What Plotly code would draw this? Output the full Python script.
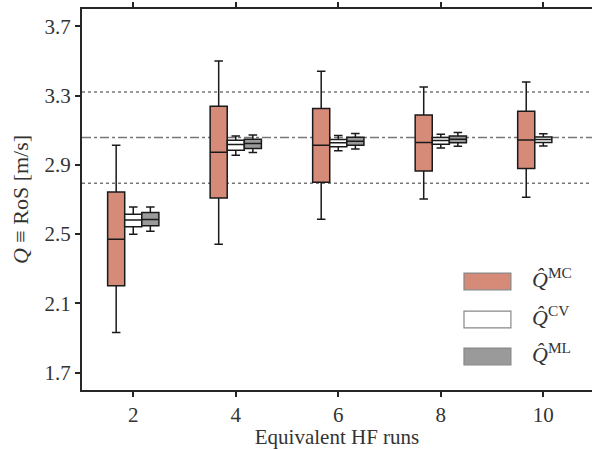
import plotly.graph_objects as go

# ---- data ----
runs = [2, 4, 6, 8, 10]

mc_low = [1.932, 2.442, 2.586, 2.703, 2.713]
mc_q1 = [2.202, 2.709, 2.800, 2.865, 2.879]
mc_med = [2.471, 2.973, 3.013, 3.029, 3.044]
mc_q3 = [2.744, 3.238, 3.225, 3.188, 3.210]
mc_high = [3.013, 3.500, 3.440, 3.350, 3.379]

cv_low = [2.500, 2.956, 2.981, 2.998, 3.009]
cv_q1 = [2.542, 2.985, 3.004, 3.019, 3.029]
cv_med = [2.581, 3.017, 3.027, 3.040, 3.046]
cv_q3 = [2.615, 3.042, 3.046, 3.058, 3.061]
cv_high = [2.656, 3.067, 3.069, 3.077, 3.079]

ml_runs = [2, 4, 6, 8]
ml_low = [2.517, 2.971, 2.992, 3.008]
ml_q1 = [2.548, 2.994, 3.013, 3.027]
ml_med = [2.585, 3.023, 3.036, 3.048]
ml_q3 = [2.625, 3.048, 3.060, 3.067]
ml_high = [2.656, 3.073, 3.081, 3.087]

ref_mean = 3.058
ref_lo = 2.794
ref_hi = 3.321

y_ticks = [1.7, 2.1, 2.5, 2.9, 3.3, 3.7]
x_ticks = [2, 4, 6, 8, 10]

legend_labels = ["<i>Q̂</i><sup>MC</sup>", "<i>Q̂</i><sup>CV</sup>", "<i>Q̂</i><sup>ML</sup>"]

# ---- styles ----
C_MC = "#d68a78"
C_CV = "#ffffff"
C_ML = "#9a9a9a"
FONT = "Liberation Serif"
TXT = "#333333"

fig = go.Figure()

def add_box(x, lo, q1, med, q3, hi, color, name):
    fig.add_trace(go.Box(
        x=x, lowerfence=lo, q1=q1, median=med, q3=q3, upperfence=hi,
        fillcolor=color, line=dict(color="#1a1a1a", width=1.5),
        whiskerwidth=0.5, boxpoints=False, name=name, showlegend=False,
        offsetgroup=name,
    ))

add_box(runs, mc_low, mc_q1, mc_med, mc_q3, mc_high, C_MC, "MC")
add_box(runs, cv_low, cv_q1, cv_med, cv_q3, cv_high, C_CV, "CV")
add_box(ml_runs, ml_low, ml_q1, ml_med, ml_q3, ml_high, C_ML, "ML")

# reference lines
for val, dash in [(ref_mean, "dashdot"), (ref_lo, "dot"), (ref_hi, "dot")]:
    fig.add_shape(type="line", xref="paper", x0=0, x1=1, yref="y", y0=val, y1=val,
                  line=dict(color="#777777", width=1.5, dash=dash), layer="below")

# manual legend
leg_colors = [C_MC, C_CV, C_ML]
leg_y = [0.285, 0.185, 0.088]
for lab, col, yc in zip(legend_labels, leg_colors, leg_y):
    fig.add_shape(type="rect", xref="paper", yref="paper",
                  x0=0.749, x1=0.841, y0=yc - 0.022, y1=yc + 0.022,
                  fillcolor=col, line=dict(color="#888888", width=1.2))
    fig.add_annotation(xref="paper", yref="paper", x=0.878, y=yc + 0.008,
                       text=lab, showarrow=False, xanchor="left", yanchor="middle",
                       font=dict(family=FONT, size=22, color=TXT))

fig.update_layout(
    width=592, height=449,
    margin=dict(l=82, r=0, t=9, b=59),
    paper_bgcolor="white", plot_bgcolor="white",
    boxmode="group", boxgap=0.5, boxgroupgap=0,
    font=dict(family=FONT, size=21, color=TXT),
    showlegend=False,
)
fig.update_xaxes(
    range=[1, 10.95], tickvals=x_ticks, ticks="outside", ticklen=5, tickwidth=1.5,
    tickcolor="#262626", showline=True, linecolor="#262626", linewidth=2,
    mirror="ticks", showgrid=False, zeroline=False,
    title=dict(text="Equivalent HF runs", standoff=5, font=dict(size=21)),
    tickfont=dict(size=21),
)
fig.update_yaxes(
    range=[1.6, 3.8], tickvals=y_ticks, tickformat=".1f", ticks="outside", ticklen=5,
    tickwidth=1.5, tickcolor="#262626", showline=True, linecolor="#262626", linewidth=2,
    mirror=False, showgrid=False, zeroline=False,
    title=dict(text="<i>Q</i> ≡ RoS [m/s]", standoff=10, font=dict(size=22)),
    tickfont=dict(size=21),
)

fig.write_html("out.html")
